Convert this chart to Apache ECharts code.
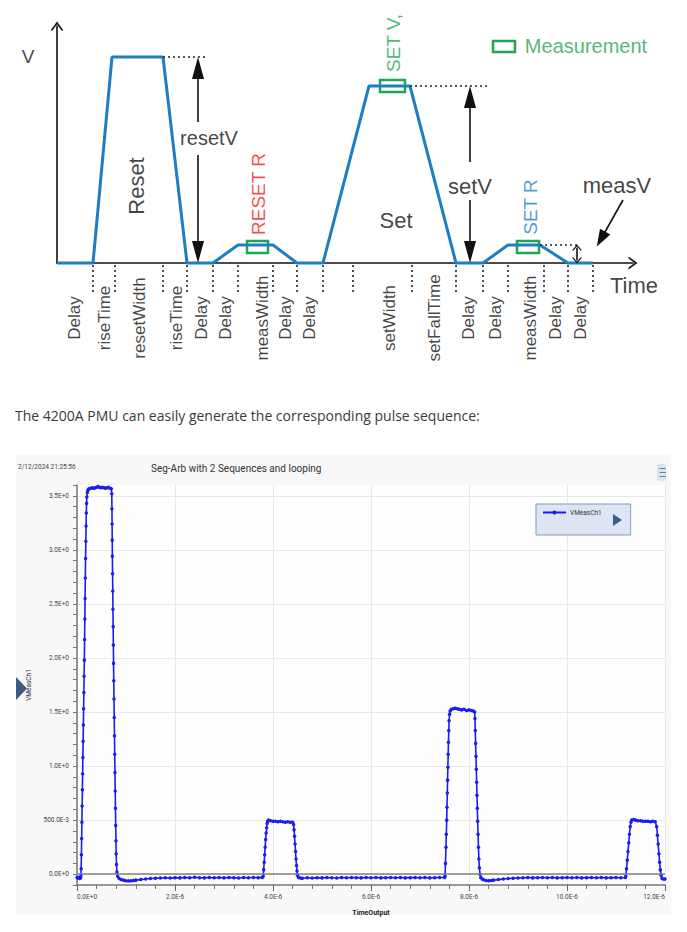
<!DOCTYPE html>
<html><head><meta charset="utf-8">
<script src="https://cdn.jsdelivr.net/npm/echarts@6/dist/echarts.min.js"></script>
<style>html,body{margin:0;padding:0;background:#fff}#c{width:687px;height:932px}</style>
</head><body><div id="c"></div>
<script>
// ---------- Top schematic (time units / voltage units of the sketch) ----------
const diagramT = [0,36,55,106,130,156,181,216,240,266,312,353,399,426,451,483,511,536];
const diagramV = [0,0,206,206,0,0,18,18,0,0,177,177,0,0,18,18,0,0];
const resetV = 206, setV = 177, measV = 18;
const segmentTicks = [36,58,106,130,156,181,216,240,266,296,355,399,426,451,487,511,536];
const segmentNames = ['Delay','riseTime','resetWidth','riseTime','Delay','Delay','measWidth','Delay','Delay','setWidth','setFallTime','Delay','Delay','measWidth','Delay','Delay'];
const segmentCenters = [17,47,82,119,144,168,205,228,252,332,377,411,438,473,498,523];
const measWindows = [[190,211,10,22],[323,348,171,183],[460,482,10,22]];

// ---------- Measured PMU waveform: [time (us), VMeasCh1 (V)] ----------
const resetPulse = [[0,-0.03],[0.02,-0.035],[0.04,-0.03],[0.06,-0.04],[0.075,-0.03],[0.08,-0.01],
 [0.085,0.05],[0.09,0.18],[0.095,0.33],[0.10,0.48],[0.105,0.63],[0.11,0.78],[0.115,0.93],[0.12,1.08],
 [0.125,1.23],[0.13,1.38],[0.135,1.53],[0.14,1.68],[0.145,1.83],[0.15,1.98],[0.155,2.17],[0.16,2.36],
 [0.165,2.55],[0.17,2.74],[0.175,2.92],[0.18,3.08],[0.185,3.22],[0.19,3.34],[0.195,3.43],[0.20,3.49],
 [0.21,3.53],[0.22,3.55],[0.235,3.56],[0.25,3.565],[0.28,3.57],[0.31,3.575],[0.34,3.57],[0.37,3.575],
 [0.40,3.58],[0.43,3.585],[0.46,3.58],[0.49,3.575],[0.52,3.58],[0.55,3.575],[0.58,3.57],[0.61,3.575],
 [0.64,3.58],[0.67,3.57],[0.70,3.565],[0.71,3.52],[0.713,3.38],[0.716,3.24],[0.719,3.09],[0.722,2.94],
 [0.726,2.78],[0.73,2.62],[0.734,2.45],[0.738,2.29],[0.742,2.12],[0.746,1.95],[0.75,1.79],[0.755,1.62],
 [0.76,1.45],[0.765,1.28],[0.77,1.11],[0.775,0.94],[0.78,0.77],[0.785,0.61],[0.79,0.45],[0.795,0.31],
 [0.80,0.19],[0.806,0.09],[0.815,0.02]];
const baselineA = [[0.83,-0.02],[0.86,-0.04],[0.90,-0.05],[0.95,-0.055],[1.0,-0.06],[1.05,-0.062],[1.1,-0.06],
 [1.15,-0.058],[1.2,-0.055],[1.3,-0.05],[1.4,-0.045],[1.5,-0.04],[1.6,-0.037],[1.7,-0.035],[1.8,-0.033],
 [1.9,-0.035],[2.0,-0.032],[2.1,-0.034],[2.2,-0.03],[2.3,-0.033],[2.4,-0.028],[2.5,-0.032],[2.6,-0.034],
 [2.7,-0.03],[2.8,-0.033],[2.9,-0.031],[3.0,-0.034],[3.1,-0.03],[3.2,-0.032],[3.3,-0.035],[3.4,-0.031],
 [3.5,-0.033],[3.6,-0.03],[3.7,-0.032],[3.78,-0.03]];
const measPulse1 = [[3.80,-0.02],[3.81,0.04],[3.82,0.11],[3.83,0.18],[3.84,0.25],[3.85,0.32],[3.86,0.38],
 [3.87,0.43],[3.88,0.47],[3.89,0.49],[3.91,0.50],[3.95,0.495],[4.0,0.49],[4.05,0.49],[4.1,0.485],[4.15,0.49],
 [4.2,0.485],[4.25,0.48],[4.3,0.485],[4.35,0.48],[4.4,0.48],[4.42,0.46],[4.43,0.41],[4.44,0.35],[4.45,0.28],
 [4.46,0.21],[4.47,0.14],[4.48,0.08],[4.49,0.03],[4.5,-0.01],[4.52,-0.03]];
const baselineB = [[4.56,-0.035],[4.6,-0.037],[4.7,-0.033],[4.8,-0.035],[4.9,-0.032],[5.0,-0.034],[5.1,-0.03],
 [5.2,-0.033],[5.3,-0.035],[5.4,-0.031],[5.5,-0.033],[5.6,-0.03],[5.7,-0.032],[5.8,-0.034],[5.9,-0.031],
 [6.0,-0.033],[6.1,-0.03],[6.2,-0.034],[6.3,-0.032],[6.4,-0.03],[6.5,-0.033],[6.6,-0.031],[6.7,-0.034],
 [6.8,-0.032],[6.9,-0.03],[7.0,-0.033],[7.1,-0.031],[7.2,-0.034],[7.3,-0.032],[7.4,-0.03],[7.5,-0.03]];
const setPulse = [[7.51,-0.02],[7.52,0.10],[7.53,0.25],[7.537,0.37],[7.545,0.50],[7.551,0.62],[7.557,0.75],
 [7.563,0.87],[7.569,0.99],[7.575,1.11],[7.581,1.22],[7.587,1.33],[7.594,1.42],[7.603,1.48],[7.615,1.51],
 [7.64,1.525],[7.68,1.53],[7.72,1.535],[7.76,1.53],[7.8,1.525],[7.85,1.52],[7.9,1.525],[7.95,1.515],[8.0,1.52],
 [8.05,1.515],[8.09,1.51],[8.115,1.50],[8.122,1.44],[8.128,1.33],[8.135,1.21],[8.142,1.09],[8.149,0.97],
 [8.156,0.85],[8.163,0.73],[8.17,0.61],[8.177,0.49],[8.185,0.37],[8.193,0.25],[8.202,0.14],[8.212,0.06],
 [8.225,0.0],[8.24,-0.03]];
const baselineC = [[8.27,-0.045],[8.3,-0.052],[8.35,-0.058],[8.4,-0.06],[8.45,-0.058],[8.5,-0.055],[8.6,-0.05],
 [8.7,-0.045],[8.8,-0.04],[8.9,-0.037],[9.0,-0.035],[9.1,-0.033],[9.2,-0.031],[9.3,-0.034],[9.4,-0.032],
 [9.5,-0.03],[9.6,-0.033],[9.7,-0.031],[9.8,-0.034],[9.9,-0.032],[10.0,-0.03],[10.1,-0.033],[10.2,-0.031],
 [10.3,-0.034],[10.4,-0.032],[10.5,-0.03],[10.6,-0.033],[10.7,-0.031],[10.8,-0.034],[10.9,-0.032],[11.0,-0.03],
 [11.1,-0.033],[11.19,-0.03]];
const measPulse2 = [[11.2,-0.02],[11.215,0.05],[11.23,0.13],[11.245,0.21],[11.26,0.29],[11.275,0.37],[11.29,0.44],
 [11.305,0.48],[11.32,0.50],[11.36,0.505],[11.4,0.50],[11.45,0.495],[11.5,0.495],[11.55,0.49],[11.6,0.49],
 [11.65,0.49],[11.7,0.485],[11.75,0.49],[11.8,0.485],[11.83,0.44],[11.845,0.36],[11.86,0.28],[11.875,0.19],
 [11.89,0.11],[11.905,0.04],[11.92,-0.01],[11.94,-0.04],[11.97,-0.045],[12.0,-0.045]];

const measured = [].concat(resetPulse, baselineA, measPulse1, baselineB, setPulse, baselineC, measPulse2);
const diagramData = diagramT.map((t, i) => [t, diagramV[i]]);

const SANS = '"Liberation Sans", Arial, sans-serif';
const BLUE = '#1f7dc2', GREEN = '#1fa652', RED = '#f01c1c';
const chevron = 'path://M6.5,0 L13,9 L11,9 L6.5,2.8 L2,9 L0,9 Z';
const dotted = {type: [2, 3], color: '#222', width: 1.6};
const solid = {type: 'solid', color: '#111', width: 1.6};
const HIDDEN = {color: 'rgba(0,0,0,0)'};

function fmtX(v) { return v === 0 ? '0.0E+0' : v.toFixed(1) + 'E-6'; }
function fmtY(v) {
  if (Math.abs(v * 2 - Math.round(v * 2)) > 1e-6 || v < -1e-9) return '';
  if (Math.abs(v) < 1e-9) return '0.0E+0';
  if (v < 1) return (v * 1000).toFixed(1) + 'E-3';
  return v.toFixed(1) + 'E+0';
}
function note(x, y, text, size, color, rotate) {
  return {value: [x, y], label: {formatter: text, fontSize: size, color: color || '#111', rotate: rotate || 0}};
}
const noteLabel = {show: true, position: 'inside', align: 'center', verticalAlign: 'middle', fontFamily: SANS,
                   textBorderWidth: 0, textShadowBlur: 0};

const chart = echarts.init(document.getElementById('c'), null, {renderer: 'svg'});
chart.setOption({
  animation: false,
  backgroundColor: '#fff',
  title: [
    {text: 'The 4200A PMU can easily generate the corresponding pulse sequence:', left: 15, top: 408, padding: 0,
     textStyle: {fontSize: 14, fontWeight: 'normal', color: '#3a3a3a', fontFamily: '"Open Sans", sans-serif'}},
    {text: 'Seg-Arb with 2 Sequences and looping', left: 151, top: 463, padding: 0,
     textStyle: {fontSize: 10, fontWeight: 'normal', color: '#333', fontFamily: 'Roboto, sans-serif'}},
    {text: '2/12/2024 21:25:56', left: 18, top: 463, padding: 0,
     textStyle: {fontSize: 6.5, fontWeight: 'normal', color: '#444', fontFamily: 'Roboto, sans-serif'}}
  ],
  graphic: [
    {type: 'rect', z: -5, shape: {x: 16, y: 455, width: 655, height: 460}, style: {fill: '#f8f8f9'}},
    {type: 'polygon', z: 10, shape: {points: [[16, 677], [27, 688.5], [16, 700]]}, style: {fill: '#3e5b86'}},
    {type: 'polygon', z: 10, shape: {points: [[613, 514], [622, 520], [613, 526]]}, style: {fill: '#3b5b8c'}},
    {type: 'rect', z: 10, shape: {x: 657, y: 464, width: 9, height: 17, r: 2}, style: {fill: '#dbe3f1'}},
    {type: 'line', z: 11, shape: {x1: 659.5, y1: 468.5, x2: 666, y2: 468.5}, style: {stroke: '#7083a8', lineWidth: 1}},
    {type: 'line', z: 11, shape: {x1: 659.5, y1: 472.5, x2: 666, y2: 472.5}, style: {stroke: '#7083a8', lineWidth: 1}},
    {type: 'line', z: 11, shape: {x1: 659.5, y1: 476.5, x2: 666, y2: 476.5}, style: {stroke: '#7083a8', lineWidth: 1}}
  ],
  legend: {
    data: ['VMeasCh1'], left: 536, top: 504, orient: 'horizontal',
    backgroundColor: '#dde5f3', borderColor: '#7f9bc8', borderWidth: 1,
    padding: [5, 29, 19, 6], itemWidth: 23, itemHeight: 5, itemGap: 4,
    textStyle: {fontSize: 6.5, color: '#333', fontFamily: 'Roboto, sans-serif', padding: [0, 0, 0, -1]}
  },
  grid: [
    {left: 57, top: 26, width: 576, height: 237},
    {left: 57, top: 263, width: 576, height: 100},
    {left: 77, right: 22, top: 485, bottom: 47, show: true, backgroundColor: '#fefefe', borderWidth: 0}
  ],
  xAxis: [
    {gridIndex: 0, type: 'value', min: 0, max: 576,
     axisLine: {show: true, lineStyle: {color: '#111', width: 1.6}, symbol: ['none', chevron], symbolSize: [13, 9]},
     axisTick: {show: false}, axisLabel: {show: false}, splitLine: {show: false}},
    {gridIndex: 1, type: 'value', min: 0, max: 576, show: false},
    {gridIndex: 2, type: 'value', min: 0, max: 12, interval: 2,
     name: 'TimeOutput', nameLocation: 'middle', nameGap: 24,
     nameTextStyle: {fontSize: 7, fontWeight: 'bold', color: '#222', fontFamily: 'Roboto, sans-serif'},
     axisLine: {onZero: false, lineStyle: {color: '#777', width: 1.5}},
     axisTick: {length: 6, lineStyle: {color: '#666'}},
     minorTick: {show: true, splitNumber: 5, length: 4, lineStyle: {color: '#777'}},
     axisLabel: {formatter: fmtX, fontSize: 6.5, color: '#444', margin: 8, fontFamily: 'Roboto, sans-serif',
                 alignMinLabel: 'left', alignMaxLabel: 'right'},
     splitLine: {show: true, lineStyle: {color: '#e8e8ec', width: 1}}}
  ],
  yAxis: [
    {gridIndex: 0, type: 'value', min: 0, max: 237,
     axisLine: {show: true, lineStyle: {color: '#111', width: 1.6}, symbol: ['none', chevron], symbolSize: [13, 9]},
     axisTick: {show: false}, axisLabel: {show: false}, splitLine: {show: false}},
    {gridIndex: 1, type: 'value', min: 0, max: 100, inverse: true, show: false},
    {gridIndex: 2, type: 'value', min: -0.1, max: 3.6, interval: 0.1,
     name: 'VMeasCh1', nameLocation: 'middle', nameGap: 44,
     nameTextStyle: {fontSize: 6.5, color: '#333', fontFamily: 'Roboto, sans-serif'},
     axisLine: {onZero: false, lineStyle: {color: '#777', width: 1.5}},
     axisTick: {length: 4, lineStyle: {color: '#777'}},
     axisLabel: {formatter: fmtY, fontSize: 6.5, color: '#444', margin: 8, fontFamily: 'Roboto, sans-serif'},
     splitLine: {show: true, lineStyle: {width: 1,
       color: ['rgba(0,0,0,0)', '#e8e8ec', 'rgba(0,0,0,0)', 'rgba(0,0,0,0)', 'rgba(0,0,0,0)']}}}
  ],
  series: [
    // schematic waveform
    {type: 'line', xAxisIndex: 0, yAxisIndex: 0, data: diagramData, symbol: 'none', clip: false, z: 3,
     lineStyle: {color: BLUE, width: 3}, silent: true,
     markArea: {silent: true, itemStyle: {color: 'rgba(0,0,0,0)', borderColor: GREEN, borderWidth: 2.5},
       data: measWindows.concat([[436, 458, 211, 222]]).map(w => [{coord: [w[0], w[2]]}, {coord: [w[1], w[3]]}])},
     markLine: {silent: true, symbol: 'none', label: {show: false}, lineStyle: solid,
       data: [
         [{coord: [106, resetV], lineStyle: dotted}, {coord: [150, resetV]}],
         [{coord: [353, setV], lineStyle: dotted}, {coord: [433, setV]}],
         [{coord: [483, measV], lineStyle: dotted}, {coord: [523, measV]}],
         [{coord: [141, 141]}, {coord: [141, resetV - 11], symbol: 'triangle', symbolSize: [12, 22]}],
         [{coord: [141, 108]}, {coord: [141, 11], symbol: 'triangle', symbolSize: [12, 22]}],
         [{coord: [413, 101]}, {coord: [413, setV - 11], symbol: 'triangle', symbolSize: [12, 22]}],
         [{coord: [413, 63]}, {coord: [413, 11], symbol: 'triangle', symbolSize: [12, 22]}],
         [{coord: [520, 2.5], symbol: chevron, symbolSize: [10, 6]}, {coord: [520, measV - 2.5], symbol: chevron, symbolSize: [10, 6]}],
         [{coord: [566, 63]}, {coord: [544, 24], symbol: 'triangle', symbolSize: [12, 17]}]
       ]}},
    // schematic annotations
    {type: 'scatter', xAxisIndex: 0, yAxisIndex: 0, clip: false, silent: true, symbolSize: 1, z: 5,
     itemStyle: HIDDEN, label: noteLabel,
     data: [
       note(-29, 207, 'V', 19),
       note(79, 77, 'Reset', 22, '#111', 90),
       note(152, 125, 'resetV', 20),
       note(201, 69, 'RESET R', 19, RED, 90),
       note(336, 220, 'SET V,', 19, GREEN, 90),
       note(339, 43, 'Set', 22),
       note(413, 77, 'setV', 22),
       note(473, 56, 'SET R', 19, '#1a84c6', 90),
       note(560, 78, 'measV', 22),
       note(529, 217, 'Measurement', 20, GREEN)
     ]},
    // segment ticks and names under the time axis
    {type: 'scatter', xAxisIndex: 1, yAxisIndex: 1, clip: false, silent: true, symbolSize: 1, z: 5,
     itemStyle: HIDDEN,
     label: Object.assign({}, noteLabel, {fontSize: 17, color: '#111', rotate: 90, formatter: '{b}'}),
     data: segmentCenters.map((x, i) => ({value: [x, 55], name: segmentNames[i]})),
     markLine: {silent: true, symbol: 'none', label: {show: false}, lineStyle: dotted,
       data: segmentTicks.map(t => [{coord: [t, 2]}, {coord: [t, 30]}])}},
    {type: 'scatter', xAxisIndex: 1, yAxisIndex: 1, clip: false, silent: true, symbolSize: 1, z: 5,
     itemStyle: HIDDEN, label: noteLabel,
     data: [note(577, 22, 'Time', 22)]},
    // measured PMU trace
    {type: 'line', name: 'VMeasCh1', xAxisIndex: 2, yAxisIndex: 2, data: measured,
     symbol: 'circle', symbolSize: 3.5, showSymbol: true, showAllSymbol: true, z: 4,
     lineStyle: {color: '#1c1cf0', width: 1.6}, itemStyle: {color: '#1c1cf0'},
     markLine: {silent: true, symbol: 'none', label: {show: false},
       lineStyle: {type: 'solid', color: '#808080', width: 1.5}, data: [{yAxis: 0}]}}
  ]
});
</script></body></html>
